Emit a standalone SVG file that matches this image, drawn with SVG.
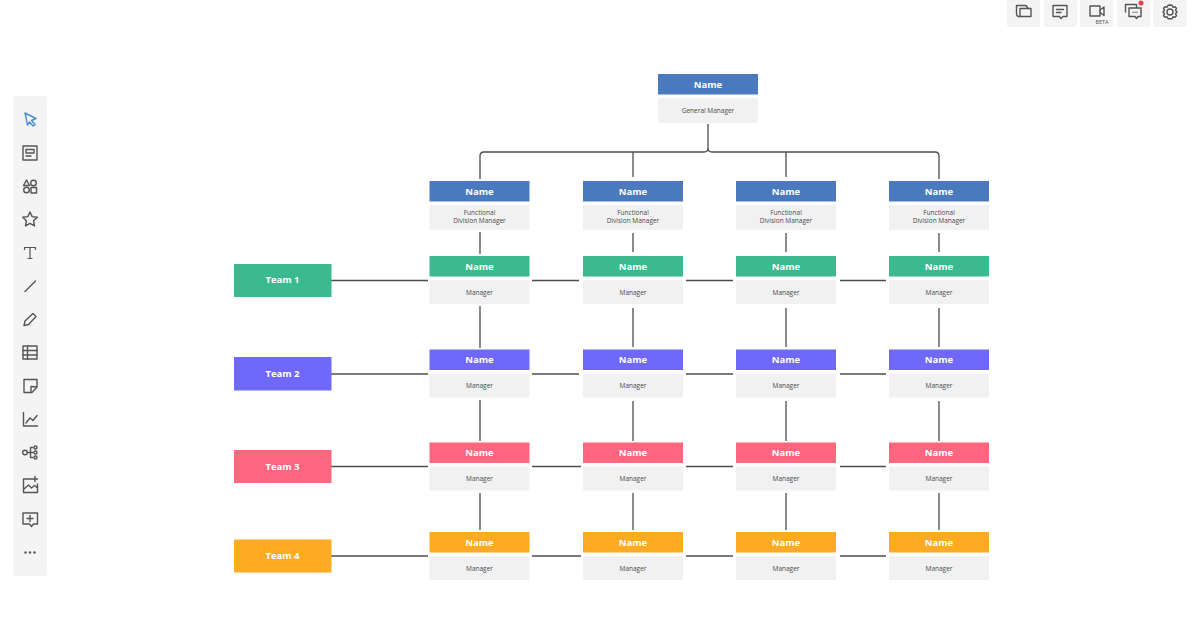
<svg xmlns="http://www.w3.org/2000/svg" width="1200" height="630" viewBox="0 0 1200 630">
<style>
text{font-family:"Open Sans","Noto Sans","Liberation Sans",sans-serif;text-anchor:middle}
.h{font-size:9.500px;font-weight:700;fill:#fff}
.t{font-size:9.500px;font-weight:700;fill:#fff}
.s{font-size:6.500px;fill:#4a4a4a}
.b{font-size:5.500px;fill:#555}
.sub{fill:#f1f1f1}
.blue{fill:#4a7abd}.green{fill:#3bb98f}.violet{fill:#6f68fb}.pink{fill:#fd667f}.amber{fill:#feaa22}
.c{fill:none;stroke:#4d4d4d;stroke-width:1.3}
.i{fill:none;stroke:#555;stroke-width:1.4;stroke-linejoin:round;stroke-linecap:round}
.tb{fill:#f4f4f4}
</style>
<defs>
<g id="fdm"><rect class="blue" width="100" height="20.500"/><rect class="sub" y="24" width="100" height="25"/><text class="h" x="50" y="13.800">Name</text><text class="s" x="50" y="34.300">Functional</text><text class="s" x="50" y="42.300">Division Manager</text></g>
<g id="msub"><rect class="sub" y="24" width="100" height="24"/><text class="h" x="50" y="13.800">Name</text><text class="s" x="50" y="38.800">Manager</text></g>
</defs>
<rect width="1200" height="630" fill="#fff"/>
<g id="connectors">
<path class="c" d="M708 124V148Q708 152 704 152H484Q480 152 480 156V179M708 148Q708 152 712 152H935Q939 152 939 156V179M633 152V177M786 152V177"/>
<path class="c" d="M480 232V254M633 233V252M786 233V252M939 233V252"/>
<path class="c" d="M480 306V348M633 308V347M786 308V347M939 308V347M480 400V441M633 401V441M786 401V441M939 401V441M480 493V530M633 493V530M786 493V530M939 493V530"/>
<path class="c" d="M331 280.500H428M532 280.500H579M686 280.500H733M840 280.500H886M331 374H428M532 374H579M686 374H733M840 374H886M331 466.500H428M532 466.500H581M686 466.500H733M840 466.500H886M331 556H428M532 556H581M686 556H733M840 556H886"/>
</g>
<g id="gm"><rect class="blue" x="658" y="74" width="100" height="20.500"/><rect class="sub" x="658" y="98" width="100" height="25"/><text class="h" x="708" y="87.800">Name</text><text class="s" x="708" y="112.800">General Manager</text></g>
<g id="fdm1"><use href="#fdm" x="429.500" y="181"/></g>
<g id="fdm2"><use href="#fdm" x="583" y="181"/></g>
<g id="fdm3"><use href="#fdm" x="736" y="181"/></g>
<g id="fdm4"><use href="#fdm" x="889" y="181"/></g>
<g id="team1"><rect class="green" x="234" y="264" width="97.500" height="33"/><text class="t" x="282.500" y="283.300">Team 1</text></g>
<g id="team2"><rect class="violet" x="234" y="357" width="97.500" height="33.500"/><text class="t" x="282.500" y="376.800">Team 2</text></g>
<g id="team3"><rect class="pink" x="234" y="450" width="97.500" height="33"/><text class="t" x="282.500" y="469.500">Team 3</text></g>
<g id="team4"><rect class="amber" x="234" y="539.500" width="97.500" height="33"/><text class="t" x="282.500" y="559">Team 4</text></g>
<g id="r1c1"><rect class="green" x="429.500" y="256" width="100" height="20.500"/><use href="#msub" x="429.500" y="256"/></g>
<g id="r1c2"><rect class="green" x="583" y="256" width="100" height="20.500"/><use href="#msub" x="583" y="256"/></g>
<g id="r1c3"><rect class="green" x="736" y="256" width="100" height="20.500"/><use href="#msub" x="736" y="256"/></g>
<g id="r1c4"><rect class="green" x="889" y="256" width="100" height="20.500"/><use href="#msub" x="889" y="256"/></g>
<g id="r2c1"><rect class="violet" x="429.500" y="349.500" width="100" height="20.500"/><use href="#msub" x="429.500" y="349.500"/></g>
<g id="r2c2"><rect class="violet" x="583" y="349.500" width="100" height="20.500"/><use href="#msub" x="583" y="349.500"/></g>
<g id="r2c3"><rect class="violet" x="736" y="349.500" width="100" height="20.500"/><use href="#msub" x="736" y="349.500"/></g>
<g id="r2c4"><rect class="violet" x="889" y="349.500" width="100" height="20.500"/><use href="#msub" x="889" y="349.500"/></g>
<g id="r3c1"><rect class="pink" x="429.500" y="442.500" width="100" height="20.500"/><use href="#msub" x="429.500" y="442.500"/></g>
<g id="r3c2"><rect class="pink" x="583" y="442.500" width="100" height="20.500"/><use href="#msub" x="583" y="442.500"/></g>
<g id="r3c3"><rect class="pink" x="736" y="442.500" width="100" height="20.500"/><use href="#msub" x="736" y="442.500"/></g>
<g id="r3c4"><rect class="pink" x="889" y="442.500" width="100" height="20.500"/><use href="#msub" x="889" y="442.500"/></g>
<g id="r4c1"><rect class="amber" x="429.500" y="532" width="100" height="20.500"/><use href="#msub" x="429.500" y="532"/></g>
<g id="r4c2"><rect class="amber" x="583" y="532" width="100" height="20.500"/><use href="#msub" x="583" y="532"/></g>
<g id="r4c3"><rect class="amber" x="736" y="532" width="100" height="20.500"/><use href="#msub" x="736" y="532"/></g>
<g id="r4c4"><rect class="amber" x="889" y="532" width="100" height="20.500"/><use href="#msub" x="889" y="532"/></g>
<g id="left-toolbar">
<rect class="tb" x="13" y="96" width="34" height="480" rx="2"/>
<path d="M25 113L36 118.500L31.500 120.500L35 124.500L33 126L29.500 122L27.500 125Z" fill="none" stroke="#4a90d0" stroke-width="1.400" stroke-linejoin="round"/>
<g class="i"><rect x="23" y="146" width="14" height="14"/><path d="M26 149.500H34V153H26ZM26 156H31"/>
<path d="M26.500 180L29.500 185.500H23.500Z"/><circle cx="33.500" cy="183" r="2.800"/><circle cx="26.500" cy="190" r="2.800"/><rect x="31" y="187.500" width="5.500" height="5.500"/>
<path d="M30 212L32.200 216.600L37.300 217.300L33.600 220.800L34.500 225.800L30 223.400L25.500 225.800L26.400 220.800L22.700 217.300L27.800 216.600Z"/>
<path d="M24.500 249.500V247.500H35.500V249.500M30 247.500V258.500M28 258.500H32" stroke-width="1.200"/>
<path d="M25 291.500L35.500 281"/>
<path d="M24 325.500L25 321L33 313.500L36 316.500L28.500 324.500Z"/>
<rect x="23" y="346" width="14" height="13"/><path d="M23 350.500H37M23 355H37M27.500 346V359"/>
<path d="M24 379.500H37V387L32 392.500H24ZM37 387L31 386.500V392"/>
<path d="M23.500 412.500V426H37.500M26 423L30 418L33 420.500L37 415.500"/>
<circle cx="25" cy="452.500" r="2.300"/><path d="M27.500 452.500H30.500M30.500 447.500V457.500M30.500 447.500H33M30.500 452.500H33M30.500 457.500H33"/><circle cx="35.500" cy="447.500" r="1.500"/><circle cx="35.500" cy="452.500" r="1.500"/><circle cx="35.500" cy="457.500" r="1.500"/>
<path d="M32 479H23.500V492.500H37.500V484M24 489L28.500 485L31.500 488L34.500 485.500L37.500 488M35 476.500V481.500M32.500 479H37.500"/>
<path d="M23 513H37.500V524H33.500L31.500 526.500L29.500 524H23ZM30 515.500V521.500M27 518.500H33"/>
</g>
<circle cx="25.500" cy="552.500" r="1.200" fill="#555"/><circle cx="30" cy="552.500" r="1.200" fill="#555"/><circle cx="34.500" cy="552.500" r="1.200" fill="#555"/>
</g>
<g id="top-toolbar">
<rect class="tb" x="1007" y="0" width="33" height="27" rx="2"/><rect class="tb" x="1044" y="0" width="33" height="27" rx="2"/><rect class="tb" x="1080" y="0" width="33" height="27" rx="2"/><rect class="tb" x="1117" y="0" width="33" height="27" rx="2"/><rect class="tb" x="1153" y="0" width="34" height="27" rx="2"/>
<g class="i"><path d="M1016.500 14V5.500H1026L1028 8.500H1020V16.500H1018.500C1017 16.500 1016.500 15.500 1016.500 14Z"/><path d="M1028 8.500H1031V16.500H1020"/>
<path d="M1053 5.500H1067V16.500H1063L1061 18.500L1059.500 16.500H1053ZM1056.500 9.500H1063.500M1056.500 12.500H1061"/>
<rect x="1090" y="6" width="10" height="10"/><path d="M1100 10L1104 7V15.500L1100 12.500"/>
<path d="M1125.500 12V4.500H1136.500V7M1129 8H1141V16.500H1138L1136.500 18.500L1135 16.500H1129Z"/>
<path d="M1170 5L1172 5.300L1173 7.300L1175 6.800L1176.500 8.300L1175.500 10.200L1177 12L1175.500 13.800L1176.500 15.700L1175 17.200L1173 16.700L1172 18.700H1168L1167 16.700L1165 17.200L1163.500 15.700L1164.500 13.800L1163 12L1164.500 10.200L1163.500 8.300L1165 6.800L1167 7.300L1168 5.300Z"/><circle cx="1170" cy="12" r="3"/></g>
<circle cx="1133" cy="12.300" r=".7" fill="#555"/><circle cx="1135" cy="12.300" r=".7" fill="#555"/><circle cx="1137" cy="12.300" r=".7" fill="#555"/>
<circle cx="1141" cy="3" r="2.500" fill="#e8404f"/>
<text class="b" x="1102" y="24">BETA</text>
</g>
</svg>
